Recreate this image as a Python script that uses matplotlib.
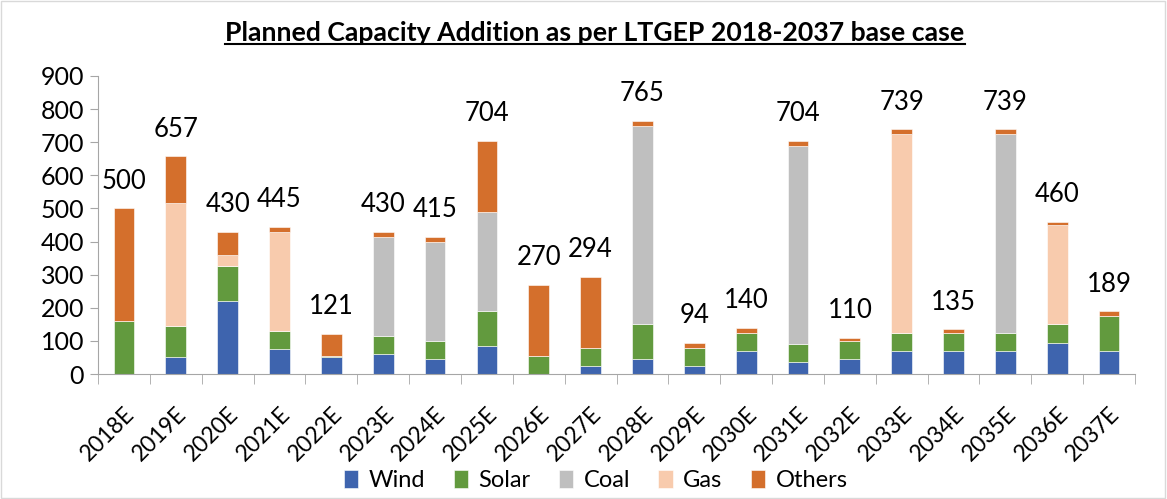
import numpy as np
import matplotlib
matplotlib.use("Agg")
from matplotlib import pyplot as plt
from matplotlib.patches import Rectangle
from matplotlib.transforms import ScaledTranslation

plt.rcParams['font.family'] = ['Lato', 'DejaVu Sans']

years = ["2018E", "2019E", "2020E", "2021E", "2022E", "2023E", "2024E", "2025E", "2026E", "2027E",
         "2028E", "2029E", "2030E", "2031E", "2032E", "2033E", "2034E", "2035E", "2036E", "2037E"]
wind = [0, 50, 220, 75, 50, 60, 45, 85, 0, 25, 45, 25, 70, 35, 45, 70, 70, 70, 95, 70]
solar = [160, 95, 105, 55, 5, 55, 55, 105, 55, 55, 105, 55, 55, 55, 55, 55, 55, 55, 55, 105]
coal = [0, 0, 0, 0, 0, 300, 300, 300, 0, 0, 600, 0, 0, 600, 0, 0, 0, 600, 0, 0]
gas = [0, 370, 35, 300, 0, 0, 0, 0, 0, 0, 0, 0, 0, 0, 0, 600, 0, 0, 300, 0]
others = [340, 142, 70, 15, 66, 15, 15, 214, 215, 214, 15, 14, 15, 14, 10, 14, 10, 14, 10, 14]
totals = [500, 657, 430, 445, 121, 430, 415, 704, 270, 294, 765, 94, 140, 704, 110, 739, 135, 739, 460, 189]

series = [("Wind", wind, "#3E64AE"), ("Solar", solar, "#629A3E"), ("Coal", coal, "#BFBFBF"),
          ("Gas", gas, "#F8CBAD"), ("Others", others, "#D46F2C")]

fig = plt.figure(figsize=(11.67, 4.99), dpi=100)
ax = fig.add_axes([0.084, 0.2505, 0.8886, 0.5972])
fig.patches.append(Rectangle((0.001, 0.002), 0.997, 0.996, transform=fig.transFigure,
                             fill=False, edgecolor="#D9D9D9", linewidth=1))

x = np.arange(len(years))
bottom = np.zeros(len(years))
for name, vals, col in series:
    ax.bar(x, vals, 0.4, bottom=bottom, color=col, label=name, edgecolor="white", linewidth=0.4)
    bottom += np.array(vals)

for i, t in enumerate(totals):
    ax.annotate(str(t), (x[i], t), xytext=(0, 14), textcoords="offset points",
                ha="center", va="baseline", fontsize=18.5)

ax.set_ylim(0, 900)
ax.set_xlim(-0.5, len(years) - 0.5)
ax.set_yticks(range(0, 901, 100))
ax.tick_params(axis="y", labelsize=18, length=6, color="#A6A6A6", pad=4)
ax.set_xticks(x)
ax.set_xticklabels(years, rotation=45, ha="right", rotation_mode="anchor", fontsize=16.5)
shift = ScaledTranslation(19 / 100, 0, fig.dpi_scale_trans)
for lab in ax.get_xticklabels():
    lab.set_transform(lab.get_transform() + shift)
ax.set_xticks(np.arange(-0.5, len(years)), minor=True)
ax.tick_params(axis="x", which="major", length=0, pad=21)
ax.tick_params(axis="x", which="minor", length=7, color="#A6A6A6")
for s in ["top", "right"]:
    ax.spines[s].set_visible(False)
for s in ["left", "bottom"]:
    ax.spines[s].set_color("#A6A6A6")

t = fig.text(595 / 1167, 1 - 41 / 499, "Planned Capacity Addition as per LTGEP 2018-2037 base case",
             fontsize=19.2, fontweight="bold", ha="center", va="baseline")
fig.canvas.draw()
bb = t.get_window_extent()
fig.add_artist(plt.Line2D([bb.x0 / 1167, bb.x1 / 1167], [1 - 44 / 499] * 2,
                          transform=fig.transFigure, color="black", linewidth=1.5))

ax.legend(loc="lower center", bbox_to_anchor=(0.48, -0.465), ncol=5, frameon=False,
          fontsize=17, handlelength=0.6, handleheight=0.75, handletextpad=0.45, columnspacing=1.2)

fig.savefig("out.png", dpi=100)
